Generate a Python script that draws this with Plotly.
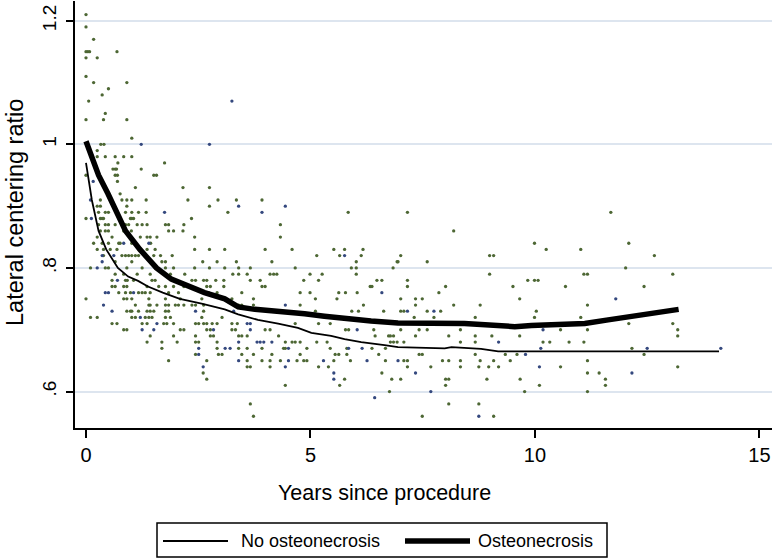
import plotly.graph_objects as go

# ---------------- data ----------------
# scatter: green points (years, ratio)
green_pts = [
    (0,1.21),(0,1.19),(.17,1.17),(0,1.15),(.04,1.15),(.08,1.15),(.69,1.15),(0,1.14),(.25,1.14),
    (0,1.11),(.17,1.10),(.91,1.10),(.5,1.09),(.36,1.08),(.06,1.07),(.43,1.05),(0,1.04),(.39,1.04),
    (.91,1.04),(1.02,1.01),
    (.33,1.0),(.40,1.0),(.25,.99),
    (.25,.98),(.43,.98),(.65,.98),(.84,.98),(1.02,.98),
    (.71,.97),(1.75,.97),
    (.6,.96),(.65,.96),(.68,.96),(1.23,.96),
    (0,.95),(.65,.95),(.7,.95),(1.51,.95),(1.57,.95),
    (.7,.94),(1.1,.93),(2.16,.93),(2.75,.93),(.76,.92),
    (.32,.91),(.8,.91),(.91,.91),(1.02,.91),(1.34,.91),(2.27,.91),(2.94,.91),(3.35,.91),(3.92,.91),
    (.25,.90),(.32,.90),(.91,.90),(2.75,.90),
    (.28,.89),(.43,.89),(.5,.89),(.88,.89),(1.02,.89),(1.17,.89),(1.34,.89),(3.16,.89),(5.84,.89),(7.16,.89),(11.69,.89),
    (0,.88),(.32,.88),(.36,.88),(.39,.88),(.99,.88),(1.02,.88),(1.06,.88),(2.35,.88),
    (.28,.87),(.43,.87),(.5,.87),(.65,.87),(.88,.87),(.95,.87),(1.14,.87),(1.25,.87),(1.36,.87),(1.77,.87),(1.84,.87),(2.18,.87),(4.33,.87),
    (.32,.86),(.43,.86),(.5,.86),(.84,.86),(1.01,.86),(1.84,.86),(1.95,.86),(2.16,.86),(8.19,.86),
    (.25,.85),(.58,.85),(1.21,.85),(1.36,.85),(1.43,.85),(1.58,.85),(2.42,.85),(4.33,.85),
    (.17,.84),(.36,.84),(.5,.84),(.73,.84),(.76,.84),(1.02,.84),(1.44,.84),(9.99,.84),(12.09,.84),
    (.25,.83),(.39,.83),(.54,.83),(.69,.83),(1.36,.83),(1.54,.83),(2.42,.83),(2.75,.83),(3.09,.83),
    (3.99,.83),(4.59,.83),(5.52,.83),(5.76,.83),(6.17,.83),(10.25,.83),(11.02,.83),
    (.39,.82),(.8,.82),(.88,.82),(.95,.82),(1.02,.82),(1.1,.82),(1.17,.82),(1.51,.82),(1.66,.82),(1.92,.82),
    (5.14,.82),(5.65,.82),(6.13,.82),(7.01,.82),(8.99,.82),(9.08,.82),(12.66,.82),
    (.65,.81),(1.02,.81),(1.69,.81),(1.77,.81),(2.6,.81),(2.92,.81),(3.35,.81),(4.14,.81),(6.02,.81),(6.93,.81),(6.95,.81),(7.6,.81),
    (.1,.80),(.43,.80),(.5,.80),(.91,.80),(1.25,.80),(1.54,.80),(1.77,.80),(1.95,.80),(2.42,.80),(2.75,.80),(3.09,.80),
    (3.4,.80),(3.66,.80),(4.66,.80),(5.91,.80),(6.02,.80),(6.84,.80),(12.02,.80),
    (.65,.79),(.84,.79),(1.14,.79),(1.43,.79),(1.88,.79),(2.2,.79),(3.27,.79),(3.4,.79),(3.59,.79),(4.1,.79),
    (4.18,.79),(4.25,.79),(4.99,.79),(5.26,.79),(6.02,.79),(8.99,.79),(11.09,.79),(11.17,.79),(13.07,.79),
    (.58,.78),(.88,.78),(.92,.78),(1.06,.78),(1.47,.78),(1.54,.78),(2.36,.78),(2.44,.78),(2.62,.78),(2.69,.78),(2.89,.78),(3.07,.78),
    (3.66,.78),(3.88,.78),(4.85,.78),(5.18,.78),(6.48,.78),(6.59,.78),(7.16,.78),(9.84,.78),(9.99,.78),(10.07,.78),
    (.58,.77),(.65,.77),(.84,.77),(.91,.77),(1.36,.77),(1.62,.77),(1.77,.77),(1.95,.77),(2.18,.77),(2.69,.77),(2.77,.77),(3.07,.77),
    (3.92,.77),(3.99,.77),(6.33,.77),(6.37,.77),(7.16,.77),(8.01,.77),(9.51,.77),(10.68,.77),(12.43,.77),
    (.73,.76),(.88,.76),(.99,.76),(1.17,.76),(1.25,.76),(1.32,.76),(1.43,.76),(1.84,.76),(2.06,.76),(2.73,.76),(2.92,.76),
    (3.47,.76),(4.77,.76),(4.99,.76),(5.63,.76),(5.78,.76),(6.04,.76),(7.86,.76),
    (0,.75),(.84,.75),(.91,.75),(1.02,.75),(1.4,.75),(1.77,.75),(2.1,.75),(2.58,.75),(3.25,.75),(3.73,.75),(5.11,.75),(5.59,.75),
    (7.01,.75),(7.34,.75),(7.49,.75),(9.66,.75),
    (1.1,.74),(1.4,.74),(1.43,.74),(1.58,.74),(1.77,.74),(1.84,.74),(1.99,.74),(2.06,.74),(2.18,.74),(2.36,.74),(2.44,.74),(2.62,.74),
    (3.4,.74),(3.47,.74),(3.73,.74),(4.77,.74),(6.18,.74),(7.34,.74),(8.19,.74),(8.78,.74),(11.17,.74),
    (.91,.73),(.99,.73),(1.02,.73),(1.17,.73),(1.36,.73),(1.43,.73),(1.51,.73),(1.77,.73),(1.84,.73),(2.62,.73),
    (5.11,.73),(5.92,.73),(6.07,.73),(6.63,.73),(7.01,.73),(7.08,.73),(7.6,.73),(7.9,.73),(10.03,.73),
    (.1,.72),(.25,.72),(1.02,.72),(1.1,.72),(1.32,.72),(1.4,.72),(1.47,.72),(1.77,.72),(1.88,.72),(2.58,.72),(3.03,.72),
    (7.31,.72),(7.75,.72),(8.67,.72),(9.99,.72),(11.02,.72),
    (.58,.71),(.69,.71),(1.25,.71),(1.36,.71),(1.73,.71),(1.8,.71),(1.95,.71),(2.44,.71),(2.51,.71),(2.62,.71),(2.69,.71),
    (2.81,.71),(2.92,.71),(3.25,.71),(3.37,.71),(4.66,.71),(5.18,.71),(5.44,.71),(12.09,.71),(13.07,.71),
    (.84,.70),(.91,.70),(2.1,.70),(2.18,.70),(2.69,.70),(2.77,.70),(3.25,.70),(3.33,.70),(3.99,.70),(4.1,.70),(5.78,.70),
    (5.85,.70),(6.41,.70),(7.01,.70),(7.42,.70),(7.6,.70),(8.34,.70),(10.57,.70),(11.17,.70),(13.18,.70),
    (1.43,.69),(1.95,.69),(2.44,.69),(2.77,.69),(2.84,.69),(3.4,.69),(3.47,.69),(3.59,.69),(4.29,.69),(6.44,.69),(6.74,.69),
    (6.78,.69),(6.85,.69),(7.34,.69),(8.08,.69),(8.67,.69),(9.04,.69),(9.66,.69),(13.18,.69),
    (1.36,.68),(1.69,.68),(2.03,.68),(2.44,.68),(2.51,.68),(2.92,.68),(4.44,.68),(4.59,.68),(4.66,.68),(4.77,.68),(5.14,.68),
    (5.37,.68),(6.78,.68),(6.85,.68),(6.93,.68),(7.08,.68),(8.34,.68),(8.67,.68),(10.18,.68),(10.33,.68),(10.76,.68),(11.09,.68),
    (1.69,.67),(2.92,.67),(3.4,.67),(3.59,.67),(3.92,.67),(4.4,.67),(4.44,.67),(4.92,.67),(5.44,.67),(5.81,.67),(6.37,.67),
    (6.67,.67),(12.16,.67),
    (2.44,.66),(2.95,.66),(3.03,.66),(3.47,.66),(3.73,.66),(4.14,.66),(4.77,.66),(5.55,.66),(5.63,.66),(5.81,.66),(6.52,.66),
    (7.42,.66),(7.49,.66),(8.67,.66),(9.34,.66),(9.6,.66),(12.43,.66),
    (1.84,.65),(2.69,.65),(3.59,.65),(3.92,.65),(4.1,.65),(4.33,.65),(4.7,.65),(4.85,.65),(4.92,.65),(5.52,.65),(5.89,.65),
    (6.67,.65),(7.08,.65),(7.16,.65),(7.94,.65),(8.08,.65),(8.34,.65),(8.78,.65),(9.08,.65),(9.45,.65),(11.17,.65),
    (3.59,.64),(3.66,.64),(4.1,.64),(5.18,.64),(5.4,.64),(7.16,.64),(7.68,.64),(8.34,.64),(8.75,.64),(8.97,.64),(9.19,.64),
    (10.57,.64),(13.18,.64),
    (2.61,.63),(6.59,.63),(11.17,.63),(11.43,.63),
    (2.69,.62),(5.76,.62),(6.81,.62),(7.01,.62),(8.01,.62),(8.08,.62),(8.93,.62),(9.67,.62),(11.57,.62),
    (4.44,.61),(5.65,.61),(8.01,.61),(10.1,.61),(11.57,.61),
    (6.76,.60),(9.77,.60),(11.17,.60),
    (3.66,.58),(8.08,.58),(8.75,.58),
    (3.73,.56),(7.49,.56),(9.08,.56),
]
# scatter: blue points (years, ratio)
blue_pts = [
    (3.25,1.07),(1.23,1.0),(2.75,1.0),(.16,.94),(.1,.91),(3.4,.90),(4.44,.90),(1.75,.89),(3.92,.89),(.12,.88),
    (.84,.84),(1.4,.84),(.36,.82),(.62,.82),(5.76,.82),(.36,.81),(.25,.80),(.7,.78),(.43,.76),(.5,.76),(1.06,.76),
    (6.59,.76),(11.8,.75),(.39,.74),(4.44,.74),(.58,.73),(2.44,.73),(3.29,.73),(7.16,.73),(7.75,.73),(1.21,.72),
    (1.58,.71),(3.59,.71),(3.66,.71),(1.25,.70),(1.51,.70),(2.84,.70),(3.66,.70),(6.04,.70),(10.18,.70),
    (3.4,.68),(3.81,.68),(3.88,.68),(3.96,.68),(4.14,.68),(9.19,.68),
    (2.51,.67),(3.1,.67),(3.21,.67),(4.51,.67),(5.85,.67),(6.15,.67),(10.13,.67),(12.5,.67),(14.14,.67),
    (2.51,.66),(9.79,.66),(3.4,.65),(4.51,.65),(5.29,.65),(6.26,.65),(6.95,.65),
    (2.61,.64),(4.44,.64),(10.1,.64),(5.52,.63),(7.34,.63),(12.16,.63),(5.52,.62),(7.68,.60),(6.43,.59),(8.75,.56),
]
green_years = [p[0] for p in green_pts]
green_ratio = [p[1] for p in green_pts]
blue_years = [p[0] for p in blue_pts]
blue_ratio = [p[1] for p in blue_pts]

# smoothed curves
no_on_years = [0, .13, .28, .45, .71, .94, 1.16, 1.38, 1.71, 2.09, 2.6, 3.09, 3.39, 3.83, 4.28, 4.72, 5.02,
               5.46, 5.76, 6.13, 6.65, 6.95, 7.99, 8.14, 8.8, 9.18, 10, 12, 14.1]
no_on_ratio = [.97, .91, .86, .83, .80, .786, .779, .77, .76, .75, .742, .733, .725, .716, .71, .703, .695,
               .69, .685, .68, .675, .672, .670, .672, .669, .665, .665, .665, .665]
on_years = [0, .12, .28, .49, .68, .88, 1.2, 1.57, 1.9, 2.27, 2.64, 3.09, 3.39, 3.76, 4.35, 4.87, 5.31, 5.76,
            6.35, 6.73, 6.95, 8.43, 9.18, 9.55, 9.92, 10.51, 11.11, 11.63, 12.15, 12.74, 13.11, 13.2]
on_ratio = [1.005, .98, .95, .92, .89, .86, .83, .80, .782, .77, .76, .75, .737, .733, .73, .726, .722, .718,
            .714, .712, .711, .71, .706, .705, .707, .709, .71, .716, .721, .727, .732, .733]

x_ticks = [0, 5, 10, 15]
y_ticks = [0.6, 0.8, 1.0, 1.2]
y_ticktext = [".6", ".8", "1", "1.2"]
legend_labels = ["No osteonecrosis", "Osteonecrosis"]

FONT = "Liberation Sans, Arial, Helvetica, sans-serif"

fig = go.Figure()
fig.add_trace(go.Scatter(x=green_years, y=green_ratio, mode="markers",
                         marker=dict(size=3.3, color="#4d6734"), hoverinfo="skip", showlegend=False))
fig.add_trace(go.Scatter(x=blue_years, y=blue_ratio, mode="markers",
                         marker=dict(size=3.3, color="#34487e"), hoverinfo="skip", showlegend=False))
fig.add_trace(go.Scatter(x=no_on_years, y=no_on_ratio, mode="lines", name=legend_labels[0],
                         line=dict(color="black", width=1.8), showlegend=False, hoverinfo="skip"))
fig.add_trace(go.Scatter(x=on_years, y=on_ratio, mode="lines", name=legend_labels[1],
                         line=dict(color="black", width=5.5), showlegend=False, hoverinfo="skip"))

W, H = 774, 560
L, R, T, B = 75, 2, 1, 132
pw, ph = W - L - R, H - T - B
def px(x):  # pixel -> paper x
    return (x - L) / pw
def py(y):  # pixel -> paper y
    return (H - B - y) / ph

fig.update_layout(
    width=W, height=H, margin=dict(l=L, r=R, t=T, b=B),
    plot_bgcolor="white", paper_bgcolor="white",
    font=dict(family=FONT, color="black"),
    showlegend=False,
    xaxis=dict(range=[-0.245, 15.28], tickvals=x_ticks, ticks="outside", ticklen=8, tickwidth=2,
               tickcolor="black", showline=True, linewidth=2, linecolor="black", showgrid=False,
               zeroline=False, tickfont=dict(size=20), ticklabelstandoff=0, automargin=False),
    yaxis=dict(range=[0.541, 1.232], tickvals=y_ticks, ticktext=y_ticktext, tickangle=-90,
               ticks="outside", ticklen=7, tickwidth=2, tickcolor="black", showline=True, linewidth=2,
               linecolor="black", showgrid=True, gridcolor="#dde5ef", gridwidth=1.5, zeroline=False,
               tickfont=dict(size=19), ticklabelstandoff=2, automargin=False),
)

# axis titles
fig.add_annotation(text="Years since procedure", xref="paper", yref="paper", x=px(384), y=py(493),
                   showarrow=False, font=dict(size=21.5), xanchor="center", yanchor="middle")
fig.add_annotation(text="Lateral centering ratio", xref="paper", yref="paper", x=px(15), y=py(213),
                   showarrow=False, font=dict(size=23.5), textangle=-90, xanchor="center", yanchor="middle")

# legend box
fig.add_shape(type="rect", xref="paper", yref="paper", x0=px(157), x1=px(607), y0=py(557), y1=py(523),
              line=dict(color="black", width=1.5), fillcolor="white")
fig.add_shape(type="line", xref="paper", yref="paper", x0=px(163), x1=px(228), y0=py(541), y1=py(541),
              line=dict(color="black", width=1.8))
fig.add_shape(type="line", xref="paper", yref="paper", x0=px(405), x1=px(470), y0=py(541), y1=py(541),
              line=dict(color="black", width=5.5))
fig.add_annotation(text=legend_labels[0], xref="paper", yref="paper", x=px(239), y=py(541), showarrow=False,
                   font=dict(size=18), xanchor="left", yanchor="middle")
fig.add_annotation(text=legend_labels[1], xref="paper", yref="paper", x=px(476), y=py(541), showarrow=False,
                   font=dict(size=18), xanchor="left", yanchor="middle")

# remove the default 8px page margin so the figure sits at the window's top-left corner
fig.write_html("out.html", config={"displayModeBar": False},
               post_script="document.body.style.margin='0px';")
